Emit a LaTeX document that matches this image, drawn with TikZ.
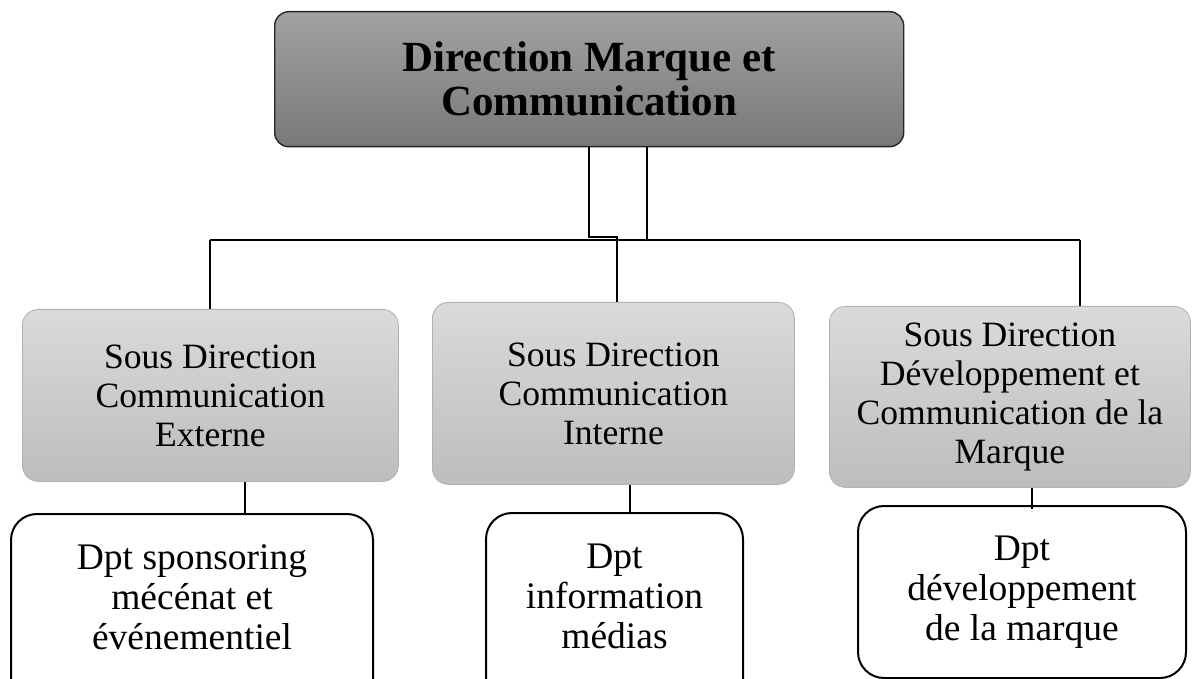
\documentclass[tikz,border=0pt]{standalone}
\usepackage{fontspec}
\setmainfont{Liberation Serif}
\usetikzlibrary{positioning,calc}
\definecolor{headtop}{HTML}{A2A2A2}
\definecolor{headbot}{HTML}{787878}
\definecolor{subtop}{HTML}{DADADA}
\definecolor{subbot}{HTML}{BDBDBD}
\tikzset{
  org/head/.style={draw=black!85, line width=1.4pt, rounded corners=14pt, top color=headtop, bottom color=headbot,
    anchor=north west, align=center, inner sep=0pt, font=\bfseries\fontsize{43}{44}\selectfont},
  org/sub/.style={draw=black!30, line width=0.8pt, rounded corners=16pt, top color=subtop, bottom color=subbot,
    anchor=north west, align=center, inner sep=0pt, font=\fontsize{35.6}{39}\selectfont},
  org/dept/.style={draw=black, line width=2pt, rounded corners=26pt, fill=white,
    anchor=north west, align=center, inner sep=0pt, font=\fontsize{37.5}{40}\selectfont},
  org/line/.style={draw=black, line width=1.3pt}
}
\begin{document}
\begin{tikzpicture}[x=1pt, y=-1pt]
  \useasboundingbox (0,0) rectangle (1195,679);

  % direction
  \node[org/head, minimum width=629pt, minimum height=135pt] (dirmc) at (274,11)
    {Direction Marque et\\Communication};

  % sous directions
  \node[org/sub, minimum width=376pt, minimum height=172pt] (sdext) at (22,309)
    {Sous Direction\\Communication\\Externe};
  \node[org/sub, minimum width=362pt, minimum height=182pt] (sdint) at (432,302)
    {Sous Direction\\Communication\\Interne};
  \node[org/sub, minimum width=361pt, minimum height=181pt] (sddev) at (829,306)
    {Sous Direction\\Développement et\\Communication de la\\Marque};

  % departements (bottom cut by the page)
  \node[org/dept, minimum width=362pt, minimum height=200pt] (dptspons) at (10,513)
    {Dpt sponsoring\\mécénat et\\événementiel\\[-6pt]\mbox{}};
  \node[org/dept, minimum width=257pt, minimum height=200pt] (dptinfo) at (485,512)
    {Dpt\\information\\médias\\[-6pt]\mbox{}};
  \node[org/dept, minimum width=328pt, minimum height=172pt] (dptdev) at (857,505)
    {Dpt\\développement\\de la marque};

  % bus
  \coordinate (busL) at (210,240);
  \coordinate (busR) at (1080,240);
  \coordinate (stemA) at (589,237);
  \coordinate (stemB) at (617,237);
  \coordinate (stemC) at (647,240);
  \draw[org/line] (busL) -- (busR);
  \draw[org/line] (dirmc.south -| stemA) -- (stemA) -- (stemB) -- (sdint.north -| stemB);
  \draw[org/line] (dirmc.south -| stemC) -- (stemC);
  \draw[org/line] (busL) -- (sdext.north -| busL);
  \draw[org/line] (busR) -- (sddev.north -| busR);

  % drops
  \coordinate (dropA) at (245,0);
  \coordinate (dropB) at (630,0);
  \coordinate (dropC) at (1032,0);
  \draw[org/line] (sdext.south -| dropA) -- (dptspons.north -| dropA);
  \draw[org/line] (sdint.south -| dropB) -- (dptinfo.north -| dropB);
  \draw[org/line] (sddev.south -| dropC) -- ($(dptdev.north -| dropC)+(0,4)$);
\end{tikzpicture}
\end{document}
